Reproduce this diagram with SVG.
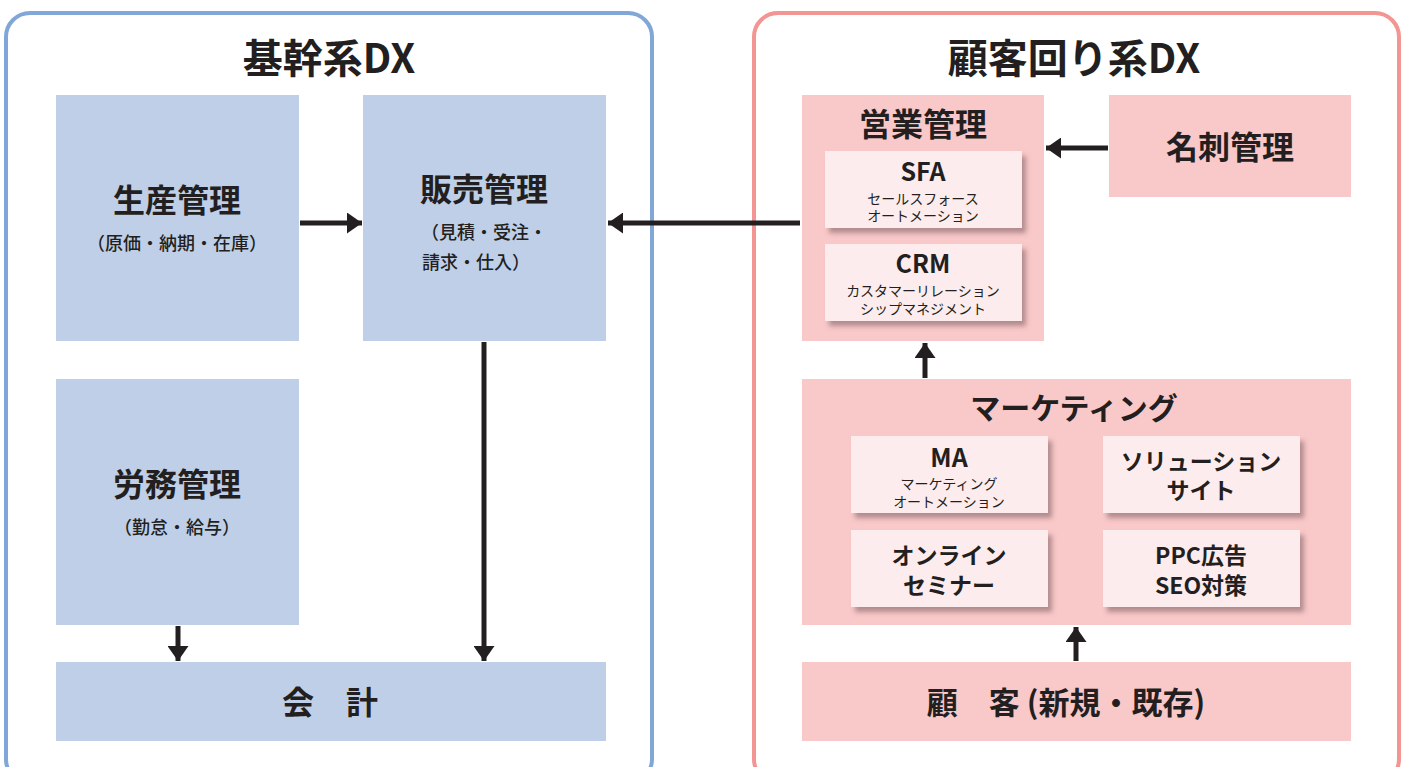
<svg xmlns="http://www.w3.org/2000/svg" width="1405" height="767" viewBox="0 0 1405 767">
  <defs>
    <style>
      .panel-core { fill: #ffffff; stroke: #80a7d7; stroke-width: 4; }
      .panel-cust { fill: #ffffff; stroke: #f29593; stroke-width: 4; }
      .blue { fill: #bfcfe8; }
      .pink { fill: #f9c8c9; }
      .inner { fill: #fdeced; filter: url(#shadow); }
      text { font-family: "Noto Sans CJK JP", "Noto Sans", sans-serif; fill: #231f20; text-anchor: middle; }
      .title { font-size: 40px; font-weight: 700; }
      .head { font-size: 32px; font-weight: 700; }
      .sub { font-size: 18px; font-weight: 500; }
      .abbr { font-size: 25px; font-weight: 700; }
      .small { font-size: 14px; font-weight: 400; }
      .mid { font-size: 23px; font-weight: 700; }
      .conn { stroke: #231f20; stroke-width: 5; fill: none; marker-end: url(#arrow); }
    </style>
    <marker id="arrow" markerUnits="userSpaceOnUse" markerWidth="15" markerHeight="21" viewBox="0 0 15 21" refX="15" refY="10.5" orient="auto">
      <path d="M0,0 L15,10.5 L0,21 Z" fill="#231f20"/>
    </marker>
    <filter id="shadow" x="-10%" y="-20%" width="130%" height="150%">
      <feDropShadow dx="4" dy="5" stdDeviation="2.5" flood-color="#7a5a5c" flood-opacity="0.55"/>
    </filter>
  </defs>

  <!-- panels -->
  <g id="panel-core">
    <rect class="panel-core" x="6" y="13" width="646" height="770" rx="24"/>
    <text class="title" x="329" y="73">基幹系DX</text>
  </g>
  <g id="panel-customer">
    <rect class="panel-cust" x="754" y="13" width="645" height="770" rx="24"/>
    <text class="title" x="1074" y="73">顧客回り系DX</text>
  </g>

  <!-- core system nodes -->
  <g id="production">
    <rect class="blue" x="56" y="95" width="243" height="246"/>
    <text class="head" x="177" y="212">生産管理</text>
    <text class="sub" x="177" y="250">（原価・納期・在庫）</text>
  </g>
  <g id="sales">
    <rect class="blue" x="363" y="95" width="243" height="246"/>
    <text class="head" x="484" y="201">販売管理</text>
    <text class="sub"><tspan x="484" y="239">（見積・受注・</tspan><tspan x="476" y="269">請求・仕入）</tspan></text>
  </g>
  <g id="labor">
    <rect class="blue" x="56" y="379" width="243" height="246"/>
    <text class="head" x="177" y="496">労務管理</text>
    <text class="sub" x="177" y="534">（勤怠・給与）</text>
  </g>
  <g id="accounting">
    <rect class="blue" x="56" y="662" width="550" height="79"/>
    <text class="head" x="330" y="714">会　計</text>
  </g>

  <!-- customer-facing nodes -->
  <g id="sales-mgmt">
    <rect class="pink" x="802" y="95" width="242" height="246"/>
    <text class="head" x="923" y="136">営業管理</text>
    <rect class="inner" x="825" y="151" width="197" height="77"/>
    <text class="abbr" x="923" y="181">SFA</text>
    <text class="small"><tspan x="923" y="204">セールスフォース</tspan><tspan x="923" y="221">オートメーション</tspan></text>
    <rect class="inner" x="825" y="244" width="197" height="77"/>
    <text class="abbr" x="923" y="273">CRM</text>
    <text class="small"><tspan x="923" y="296">カスタマーリレーション</tspan><tspan x="923" y="314">シップマネジメント</tspan></text>
  </g>
  <g id="business-cards">
    <rect class="pink" x="1109" y="95" width="242" height="102"/>
    <text class="head" x="1230" y="159">名刺管理</text>
  </g>
  <g id="marketing">
    <rect class="pink" x="802" y="379" width="549" height="246"/>
    <text class="head" x="1074" y="419" style="font-size:30px">マーケティング</text>
    <rect class="inner" x="851" y="436" width="197" height="77"/>
    <text class="abbr" x="949" y="467">MA</text>
    <text class="small"><tspan x="949" y="489">マーケティング</tspan><tspan x="949" y="507">オートメーション</tspan></text>
    <rect class="inner" x="1103" y="436" width="197" height="77"/>
    <text class="mid"><tspan x="1201" y="470">ソリューション</tspan><tspan x="1201" y="499">サイト</tspan></text>
    <rect class="inner" x="851" y="530" width="197" height="77"/>
    <text class="mid"><tspan x="949" y="564">オンライン</tspan><tspan x="949" y="594">セミナー</tspan></text>
    <rect class="inner" x="1103" y="530" width="197" height="77"/>
    <text class="mid"><tspan x="1201" y="564">PPC広告</tspan><tspan x="1201" y="594">SEO対策</tspan></text>
  </g>
  <g id="customers">
    <rect class="pink" x="802" y="662" width="549" height="79"/>
    <text class="head" x="1066" y="714" style="font-size:31px">顧　客 (新規・既存)</text>
  </g>

  <!-- connectors -->
  <g id="connectors">
    <line class="conn" x1="300" y1="223" x2="362" y2="223"/>
    <line class="conn" x1="800" y1="223" x2="608" y2="223"/>
    <line class="conn" x1="484" y1="342" x2="484" y2="661"/>
    <line class="conn" x1="178" y1="626" x2="178" y2="661"/>
    <line class="conn" x1="1108" y1="148" x2="1046" y2="148"/>
    <line class="conn" x1="925" y1="378" x2="925" y2="343"/>
    <line class="conn" x1="1076" y1="661" x2="1076" y2="627"/>
  </g>
</svg>
